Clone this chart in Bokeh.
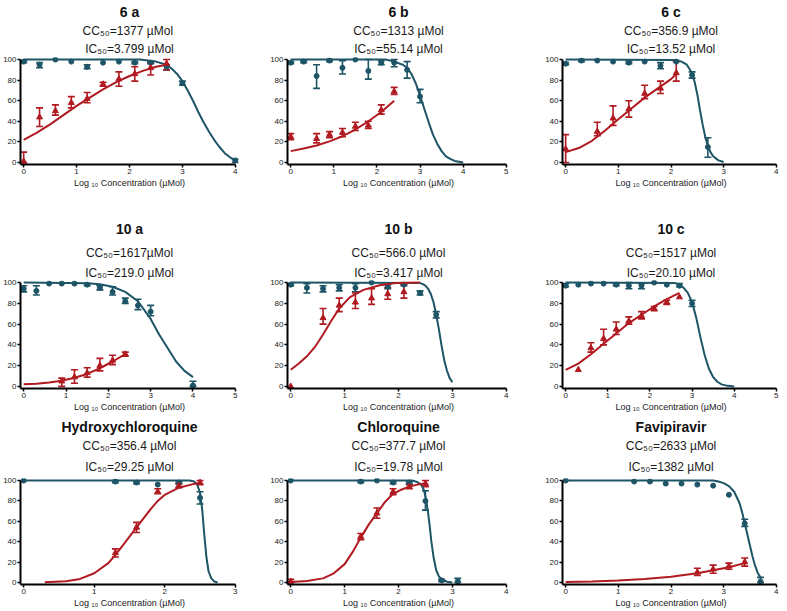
from bokeh.plotting import figure
from bokeh.models import Title, Whisker, TeeHead, ColumnDataSource, Range1d, FixedTicker
from bokeh.layouts import column, row
from bokeh.embed import file_html
from bokeh.resources import INLINE

# ---------------- data ----------------
# 6 a
P6A_CC_X = [0, 0.3, 0.6, 0.9, 1.2, 1.5, 1.8, 2.1, 2.4, 2.7, 3.0, 4.0]
P6A_CC_Y = [98, 95, 100, 98, 93, 97, 98, 97, 97, 93, 77, 2]
P6A_CC_LO = [97, 92, 100, 98, 91, 97, 98, 96, 96, 90, 75, 0]
P6A_CC_HI = [99, 97, 100, 98, 95, 97, 98, 98, 98, 95, 79, 3]
P6A_CC_FX = [0, 2.2, 2.5, 2.7, 2.8, 2.9, 3.0, 3.1, 3.2, 3.3, 3.4, 3.5, 3.6, 3.7, 3.8, 3.9, 4.0]
P6A_CC_FY = [100, 100, 98, 95, 91, 86, 79, 70, 60, 49, 39, 30, 22, 15, 9, 5, 2]
P6A_IC_X = [0, 0.3, 0.6, 0.9, 1.2, 1.5, 1.8, 2.1, 2.4, 2.7]
P6A_IC_Y = [1, 44, 50, 58, 62, 76, 81, 86, 92, 96]
P6A_IC_LO = [0, 35, 46, 53, 58, 74, 74, 79, 85, 90]
P6A_IC_HI = [10, 53, 56, 64, 68, 78, 88, 93, 97, 100]
P6A_IC_FX = [0, 0.25, 0.5, 0.75, 1.0, 1.25, 1.5, 1.75, 2.0, 2.25, 2.5, 2.7]
P6A_IC_FY = [22, 29, 37, 46, 55, 63, 71, 78, 84, 89, 93, 95]

# 6 b
P6B_CC_X = [0, 0.3, 0.6, 0.9, 1.2, 1.5, 1.8, 2.1, 2.4, 2.7, 3.0]
P6B_CC_Y = [97, 98, 84, 99, 92, 100, 89, 97, 97, 90, 64]
P6B_CC_LO = [96, 97, 72, 98, 86, 100, 81, 95, 93, 82, 58]
P6B_CC_HI = [98, 99, 95, 100, 99, 100, 100, 99, 100, 98, 71]
P6B_CC_FX = [0, 2.2, 2.4, 2.6, 2.7, 2.8, 2.9, 3.0, 3.1, 3.2, 3.3, 3.4, 3.5, 3.6, 3.7, 3.8, 4.0]
P6B_CC_FY = [100, 100, 98, 95, 92, 86, 77, 65, 52, 39, 27, 18, 11, 6, 3.5, 1.5, 0]
P6B_IC_X = [0, 0.6, 0.9, 1.2, 1.5, 1.8, 2.1, 2.4]
P6B_IC_Y = [25, 23, 27, 29, 35, 36, 51, 69]
P6B_IC_LO = [22, 19, 24, 25, 31, 33, 47, 66]
P6B_IC_HI = [28, 28, 30, 33, 39, 40, 56, 73]
P6B_IC_FX = [0, 0.3, 0.6, 0.9, 1.2, 1.5, 1.8, 2.1, 2.4]
P6B_IC_FY = [11, 13.5, 16.5, 20.5, 25.5, 32, 40, 49, 60]

# 6 c
P6C_CC_X = [0, 0.3, 0.6, 0.9, 1.2, 1.5, 1.8, 2.1, 2.4, 2.7]
P6C_CC_Y = [96, 99, 99, 98, 97, 98, 94, 98, 85, 15]
P6C_CC_LO = [95, 98, 99, 98, 96, 98, 91, 98, 82, 5]
P6C_CC_HI = [97, 100, 99, 98, 98, 98, 97, 98, 88, 24]
P6C_CC_FX = [0, 2.1, 2.2, 2.3, 2.4, 2.45, 2.5, 2.55, 2.6, 2.65, 2.7, 2.75, 2.8, 2.9, 3.0]
P6C_CC_FY = [100, 99.5, 98, 95, 87, 78, 66, 51, 37, 25, 16, 10, 6, 2, 0.5]
P6C_IC_X = [0, 0.6, 0.9, 1.2, 1.5, 1.8, 2.1]
P6C_IC_Y = [13, 30, 43, 52, 67, 72, 87]
P6C_IC_LO = [0, 26, 36, 44, 62, 67, 79]
P6C_IC_HI = [27, 39, 55, 60, 75, 79, 98]
P6C_IC_FX = [0, 0.25, 0.5, 0.75, 1.0, 1.25, 1.5, 1.75, 2.0, 2.1]
P6C_IC_FY = [10, 14, 21, 31, 42, 52.5, 63, 72, 81, 86]

# 10 a
P10A_CC_X = [0, 0.3, 0.6, 0.9, 1.2, 1.5, 1.8, 2.1, 2.4, 2.7, 3.0, 4.0]
P10A_CC_Y = [94, 92, 99, 99, 99, 98, 95, 91, 82, 78, 72, 1]
P10A_CC_LO = [91, 88, 99, 99, 99, 97, 93, 88, 80, 74, 68, 0]
P10A_CC_HI = [97, 97, 99, 99, 99, 99, 97, 96, 85, 84, 78, 5]
P10A_CC_FX = [0, 1.5, 1.8, 2.1, 2.4, 2.7, 3.0, 3.2, 3.4, 3.6, 3.8, 4.0]
P10A_CC_FY = [100, 99.3, 98.4, 96, 91, 82, 65, 50, 37, 24, 15, 9]
P10A_IC_X = [0.9, 1.2, 1.5, 1.8, 2.1, 2.4]
P10A_IC_Y = [5, 9, 13, 20, 25, 31]
P10A_IC_LO = [0, 3, 9, 15, 21, 29]
P10A_IC_HI = [8, 16, 18, 27, 30, 33]
P10A_IC_FX = [0, 0.3, 0.6, 0.9, 1.2, 1.5, 1.8, 2.1, 2.4]
P10A_IC_FY = [2, 2.5, 3.7, 5.5, 8.3, 12, 17.5, 24, 31]

# 10 b
P10B_CC_X = [0, 0.3, 0.6, 0.9, 1.2, 1.5, 1.8, 2.1, 2.4, 2.7]
P10B_CC_Y = [98, 95, 94, 95, 95, 100, 96, 98, 90, 69]
P10B_CC_LO = [97, 90, 91, 92, 91, 100, 94, 97, 88, 66]
P10B_CC_HI = [99, 99, 97, 98, 99, 100, 98, 99, 92, 72]
P10B_CC_FX = [0, 2.4, 2.45, 2.5, 2.55, 2.6, 2.65, 2.7, 2.75, 2.8, 2.85, 2.9, 2.95, 3.0]
P10B_CC_FY = [100, 99.5, 98.5, 97, 94, 89, 81, 69, 55, 39, 25, 15, 8, 4]
P10B_IC_X = [0, 0.6, 0.9, 1.2, 1.5, 1.8, 2.1]
P10B_IC_Y = [0, 66, 78, 81, 85, 89, 91]
P10B_IC_LO = [0, 60, 72, 75, 79, 84, 85]
P10B_IC_HI = [0, 75, 85, 90, 94, 95, 98]
P10B_IC_FX = [0, 0.15, 0.3, 0.45, 0.6, 0.75, 0.9, 1.1, 1.35, 1.65, 1.95, 2.4]
P10B_IC_FY = [16, 22, 29, 38, 50, 63, 75, 86, 93, 97.5, 99.5, 100]

# 10 c
P10C_CC_X = [0, 0.3, 0.6, 0.9, 1.2, 1.5, 1.8, 2.1, 2.4, 2.7, 3.0]
P10C_CC_Y = [97, 98, 99, 99, 98, 97, 97, 100, 98, 97, 80]
P10C_CC_LO = [96, 98, 99, 99, 97, 94, 94, 100, 98, 96, 77]
P10C_CC_HI = [99, 98, 99, 99, 99, 100, 99, 100, 98, 99, 83]
P10C_CC_FX = [0, 2.6, 2.7, 2.8, 2.9, 3.0, 3.1, 3.2, 3.3, 3.4, 3.5, 3.6, 3.7, 3.8, 4.0]
P10C_CC_FY = [100, 99.5, 98, 95, 90, 81, 66, 47, 30, 17, 9, 4.5, 2, 1, 0]
P10C_IC_X = [0.3, 0.6, 0.9, 1.2, 1.5, 1.8, 2.1, 2.4, 2.7]
P10C_IC_Y = [16, 37, 46, 55, 63, 68, 75, 81, 86]
P10C_IC_LO = [16, 33, 40, 50, 60, 65, 73, 79, 86]
P10C_IC_HI = [16, 42, 55, 62, 67, 72, 77, 83, 86]
P10C_IC_FX = [0, 0.3, 0.6, 0.9, 1.2, 1.5, 1.8, 2.1, 2.4, 2.7]
P10C_IC_FY = [16, 22, 31, 41, 51, 61, 69, 77, 84, 90]

# Hydroxychloroquine
HCQ_CC_X = [0, 1.3, 1.6, 1.9, 2.2, 2.5]
HCQ_CC_Y = [100, 99, 98, 96, 98, 83]
HCQ_CC_LO = [100, 98, 97, 96, 97, 77]
HCQ_CC_HI = [100, 100, 99, 96, 99, 89]
HCQ_CC_FX = [0, 2.35, 2.42, 2.46, 2.5, 2.53, 2.56, 2.59, 2.62, 2.66, 2.7, 2.75]
HCQ_CC_FY = [100, 100, 99, 96, 88, 72, 47, 25, 11, 4, 1, 0]
HCQ_IC_X = [1.3, 1.6, 1.9, 2.2, 2.5]
HCQ_IC_Y = [29, 54, 89, 95, 98]
HCQ_IC_LO = [25, 49, 87, 93, 96]
HCQ_IC_HI = [33, 59, 92, 97, 100]
HCQ_IC_FX = [0.3, 0.6, 0.8, 1.0, 1.2, 1.3, 1.4, 1.5, 1.6, 1.8, 1.9, 2.0, 2.2, 2.4, 2.5]
HCQ_IC_FY = [0.3, 1.2, 3.5, 9, 19, 27, 36, 45, 54, 72, 80, 86, 93, 96.5, 97.5]

# Chloroquine
CQ_CC_X = [0, 1.3, 1.6, 1.9, 2.2, 2.5, 2.8, 3.1]
CQ_CC_Y = [100, 99, 100, 98, 98, 80, 2, 1]
CQ_CC_LO = [100, 98, 100, 97, 97, 71, 1, 0]
CQ_CC_HI = [100, 100, 100, 99, 99, 90, 3, 4]
CQ_CC_FX = [0, 2.25, 2.35, 2.42, 2.47, 2.51, 2.55, 2.58, 2.61, 2.65, 2.7, 2.75, 2.8, 2.9, 3.0]
CQ_CC_FY = [100, 100, 98.5, 96, 91, 82, 68, 55, 40, 25, 12, 6, 3, 0.7, 0]
CQ_IC_X = [0, 1.3, 1.6, 1.9, 2.2, 2.5]
CQ_IC_Y = [1, 45, 68, 89, 94, 97]
CQ_IC_LO = [0, 42, 63, 86, 92, 94]
CQ_IC_HI = [3, 48, 73, 92, 96, 100]
CQ_IC_FX = [0, 0.3, 0.6, 0.8, 1.0, 1.15, 1.3, 1.45, 1.6, 1.75, 1.9, 2.05, 2.2, 2.35, 2.5]
CQ_IC_FY = [0.5, 1.5, 4, 9, 18, 30, 44, 57, 68, 79, 87, 91, 94, 96, 97]

# Favipiravir
FAV_CC_X = [0, 1.3, 1.6, 1.9, 2.2, 2.5, 2.8, 3.1, 3.4, 3.7]
FAV_CC_Y = [100, 99, 99, 97, 97, 96, 95, 86, 58, 1]
FAV_CC_LO = [100, 99, 99, 97, 97, 96, 95, 86, 55, 0]
FAV_CC_HI = [100, 99, 99, 97, 97, 96, 95, 86, 62, 5]
FAV_CC_FX = [0, 2.8, 2.9, 3.0, 3.1, 3.2, 3.3, 3.35, 3.4, 3.45, 3.5, 3.55, 3.6, 3.65, 3.7]
FAV_CC_FY = [100, 100, 99, 97.5, 94.5, 89, 78, 69, 58, 47, 36, 25, 16, 9, 5]
FAV_IC_X = [2.5, 2.8, 3.1, 3.4]
FAV_IC_Y = [10, 13, 16, 20]
FAV_IC_LO = [7, 9, 13, 16]
FAV_IC_HI = [14, 17, 19, 24]
FAV_IC_FX = [0, 0.5, 1.0, 1.5, 2.0, 2.5, 2.8, 3.1, 3.4]
FAV_IC_FY = [0.5, 1, 2, 3.5, 5.5, 9, 12, 15, 19]

NAMES = ["6 a", "6 b", "6 c", "10 a", "10 b", "10 c",
         "Hydroxychloroquine", "Chloroquine", "Favipiravir"]
CC_TEXT = ["CC₅₀=1377  µMol", "CC₅₀=1313 µMol", "CC₅₀=356.9 µMol",
           "CC₅₀=1617µMol", "CC₅₀=566.0 µMol", "CC₅₀=1517 µMol",
           "CC₅₀=356.4 µMol", "CC₅₀=377.7 µMol", "CC₅₀=2633 µMol"]
IC_TEXT = ["IC₅₀=3.799 µMol", "IC₅₀=55.14 µMol", "IC₅₀=13.52 µMol",
           "IC₅₀=219.0 µMol", "IC₅₀=3.417 µMol", "IC₅₀=20.10 µMol",
           "IC₅₀=29.25 µMol", "IC₅₀=19.78 µMol", "IC₅₀=1382 µMol"]
X_MAX = [4, 5, 4, 5, 4, 5, 3, 4, 4]
Y_TICKS = [0, 20, 40, 60, 80, 100]
X_LABEL = "Log ₁₀ Concentration (µMol)"

CC_SETS = [
    (P6A_CC_X, P6A_CC_Y, P6A_CC_LO, P6A_CC_HI, P6A_CC_FX, P6A_CC_FY),
    (P6B_CC_X, P6B_CC_Y, P6B_CC_LO, P6B_CC_HI, P6B_CC_FX, P6B_CC_FY),
    (P6C_CC_X, P6C_CC_Y, P6C_CC_LO, P6C_CC_HI, P6C_CC_FX, P6C_CC_FY),
    (P10A_CC_X, P10A_CC_Y, P10A_CC_LO, P10A_CC_HI, P10A_CC_FX, P10A_CC_FY),
    (P10B_CC_X, P10B_CC_Y, P10B_CC_LO, P10B_CC_HI, P10B_CC_FX, P10B_CC_FY),
    (P10C_CC_X, P10C_CC_Y, P10C_CC_LO, P10C_CC_HI, P10C_CC_FX, P10C_CC_FY),
    (HCQ_CC_X, HCQ_CC_Y, HCQ_CC_LO, HCQ_CC_HI, HCQ_CC_FX, HCQ_CC_FY),
    (CQ_CC_X, CQ_CC_Y, CQ_CC_LO, CQ_CC_HI, CQ_CC_FX, CQ_CC_FY),
    (FAV_CC_X, FAV_CC_Y, FAV_CC_LO, FAV_CC_HI, FAV_CC_FX, FAV_CC_FY),
]
IC_SETS = [
    (P6A_IC_X, P6A_IC_Y, P6A_IC_LO, P6A_IC_HI, P6A_IC_FX, P6A_IC_FY),
    (P6B_IC_X, P6B_IC_Y, P6B_IC_LO, P6B_IC_HI, P6B_IC_FX, P6B_IC_FY),
    (P6C_IC_X, P6C_IC_Y, P6C_IC_LO, P6C_IC_HI, P6C_IC_FX, P6C_IC_FY),
    (P10A_IC_X, P10A_IC_Y, P10A_IC_LO, P10A_IC_HI, P10A_IC_FX, P10A_IC_FY),
    (P10B_IC_X, P10B_IC_Y, P10B_IC_LO, P10B_IC_HI, P10B_IC_FX, P10B_IC_FY),
    (P10C_IC_X, P10C_IC_Y, P10C_IC_LO, P10C_IC_HI, P10C_IC_FX, P10C_IC_FY),
    (HCQ_IC_X, HCQ_IC_Y, HCQ_IC_LO, HCQ_IC_HI, HCQ_IC_FX, HCQ_IC_FY),
    (CQ_IC_X, CQ_IC_Y, CQ_IC_LO, CQ_IC_HI, CQ_IC_FX, CQ_IC_FY),
    (FAV_IC_X, FAV_IC_Y, FAV_IC_LO, FAV_IC_HI, FAV_IC_FX, FAV_IC_FY),
]

# ---------------- styling / layout ----------------
BLUE = "#1d5567"
RED = "#b01a20"
FONT = "Liberation Sans"
TXT = "#1a1a1a"

COL_W = [262, 262, 262]
COL_L = [17, 25, 38]
COL_R = [24, 15, 7]
ROW_H = [215, 199, 196]
ROW_T = [57, 64, 64]
ROW_B = [51, 26, 26]
# standoffs of (IC line, CC line, name) per row
ROW_STANDOFF = [(3, 2, 1), (1, 8, 6), (9, 2, 2)]


def add_series(p, data, color, marker, msize):
    x, y, lo, hi, fx, fy = data
    p.line(fx, fy, line_color=color, line_width=2)
    keep = [k for k in range(len(x)) if hi[k] > lo[k]]
    if keep:
        src = ColumnDataSource(dict(x=[x[k] for k in keep],
                                    lo=[lo[k] for k in keep],
                                    hi=[hi[k] for k in keep]))
        p.add_layout(Whisker(source=src, base="x", lower="lo", upper="hi",
                             line_color=color, line_width=1.6,
                             upper_head=TeeHead(size=7, line_color=color, line_width=1.6),
                             lower_head=TeeHead(size=7, line_color=color, line_width=1.6)))
    p.scatter(x, y, marker=marker, size=msize, fill_color=color, line_color=color)


def make_panel(i):
    r, c = divmod(i, 3)
    xmax = X_MAX[i]
    pad = 0.015 * xmax
    s_ic, s_cc, s_nm = ROW_STANDOFF[r]
    p = figure(width=COL_W[c], height=ROW_H[r], output_backend="svg",
               toolbar_location=None,
               x_range=Range1d(-pad, xmax + pad), y_range=Range1d(-2, 102),
               min_border_left=COL_L[c], min_border_right=COL_R[c],
               min_border_top=ROW_T[r], min_border_bottom=ROW_B[r])
    p.xgrid.visible = False
    p.ygrid.visible = False
    p.outline_line_color = None
    p.background_fill_color = "white"
    p.border_fill_color = "white"

    # main title (outermost)
    p.title.text = NAMES[i]
    p.title.align = "center"
    p.title.text_font = FONT
    p.title.text_font_size = "14px"
    p.title.text_font_style = "bold"
    p.title.text_color = "#111111"
    p.title.standoff = s_nm
    # extra lines: first added sits closest to the frame
    p.add_layout(Title(text=IC_TEXT[i], align="center", text_font=FONT,
                       text_font_size="12px", text_font_style="normal",
                       text_color=TXT, standoff=s_ic), "above")
    p.add_layout(Title(text=CC_TEXT[i], align="center", text_font=FONT,
                       text_font_size="12px", text_font_style="normal",
                       text_color=TXT, standoff=s_cc), "above")

    p.xaxis.ticker = FixedTicker(ticks=list(range(xmax + 1)))
    p.yaxis.ticker = FixedTicker(ticks=Y_TICKS)
    p.xaxis.bounds = (-pad, xmax)
    p.yaxis.bounds = (-2, 100)
    p.xaxis.axis_label = X_LABEL
    p.xaxis.axis_label_text_font = FONT
    p.xaxis.axis_label_text_font_size = "9px"
    p.xaxis.axis_label_text_font_style = "normal"
    p.xaxis.axis_label_text_color = TXT
    p.xaxis.axis_label_standoff = 1
    for ax in (p.xaxis[0], p.yaxis[0]):
        ax.axis_line_width = 2
        ax.axis_line_color = "black"
        ax.major_tick_line_width = 1.5
        ax.major_tick_line_color = "black"
        ax.major_tick_out = 3
        ax.major_tick_in = 0
        ax.minor_tick_out = 0
        ax.minor_tick_in = 0
        ax.major_label_text_font = FONT
        ax.major_label_text_font_size = "8px"
        ax.major_label_text_color = TXT
        ax.major_label_standoff = 1

    add_series(p, CC_SETS[i], BLUE, "circle", 5)
    add_series(p, IC_SETS[i], RED, "triangle", 6)
    return p


figs = [make_panel(i) for i in range(9)]
layout = column(row(*figs[0:3]), row(*figs[3:6]), row(*figs[6:9]))

open("out.html", "w").write(file_html(layout, INLINE))
